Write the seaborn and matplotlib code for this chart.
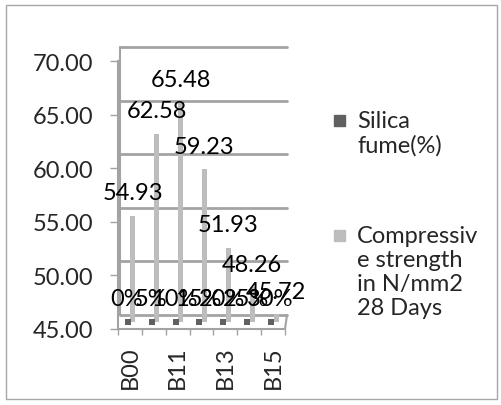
import numpy as np
import pandas as pd
import matplotlib
matplotlib.use("Agg")
import matplotlib.pyplot as plt
import matplotlib.transforms as mtransforms
from matplotlib.ticker import FormatStrFormatter
from matplotlib.patches import Rectangle
import seaborn as sns

# values
mixes = ['B00', 'B10', 'B11', 'B12', 'B13', 'B14', 'B15']
silica_fume = [0.00, 0.05, 0.10, 0.15, 0.20, 0.25, 0.30]
strength_28d = [54.93, 62.58, 65.48, 59.23, 51.93, 48.26, 45.72]
y_ticks = [45, 50, 55, 60, 65, 70]
shown_mix_labels = ['B00', 'B11', 'B13', 'B15']

silica_label = 'Silica\nfume(%)'
strength_label = 'Compressiv\ne strength\nin N/mm2\n28 Days'

SILICA_COLOR = '#606060'
STRENGTH_COLOR = '#bdbdbd'
GRID_COLOR = '#a3a3a3'
FS = 17

sns.set_theme(style='white')
plt.rcParams['font.family'] = ['Lato', 'DejaVu Sans']

W, H, DPI = 501, 406, 100
fig = plt.figure(figsize=(W / DPI, H / DPI), dpi=DPI)
ax = fig.add_axes([118 / W, 1 - 330 / H, 167 / W, 268 / H])


def shift(dx, dy):
    # pixel offset, fakes the depth of Excel's 3D column chart
    return mtransforms.ScaledTranslation(dx / DPI, dy / DPI, fig.dpi_scale_trans)


wall = shift(2, 14)
ymin, ymax = y_ticks[0], y_ticks[-1]

df = pd.DataFrame({'mix': mixes, 'silica': silica_fume, 'strength': strength_28d})
df['silica_floor'] = df['silica'].clip(lower=ymin)  # below axis min -> sits on the floor

# bars of compressive strength
sns.barplot(data=df, x='mix', y='strength', color=STRENGTH_COLOR, saturation=1,
            width=0.21, linewidth=0, ax=ax, zorder=3)
for bar in ax.patches:
    h = bar.get_height()
    bar.set_y(ymin)
    bar.set_height(h - ymin)
    bar.set_transform(ax.transData + shift(3, 7))
    bar.set_clip_on(False)

# silica fume series (all below 45, so only the floor stub shows)
sns.scatterplot(data=df, x='mix', y='silica_floor', marker='s', s=13,
                color=SILICA_COLOR, linewidth=0, ax=ax, zorder=4)
ax.collections[-1].set_offset_transform(ax.transData + shift(-2, 7))

# back wall gridlines and wall edge
for v in y_ticks:
    ax.plot([0, 1], [v, v], color=GRID_COLOR, lw=2,
            transform=ax.get_yaxis_transform() + wall, clip_on=False, zorder=1)
ax.plot([0, 0], [ymin, ymax], color=GRID_COLOR, lw=1.5,
        transform=ax.get_yaxis_transform() + wall, clip_on=False, zorder=1)
ax.plot([1, 1 + 2 / 167], [0, 14 / 268], color=GRID_COLOR, lw=1.5,
        transform=ax.transAxes, clip_on=False, zorder=1)

# data labels
for i, v in enumerate(strength_28d):
    ax.annotate(f'{v:.2f}', (i, v), xytext=(3 * 0.72, 30 * 0.72),
                textcoords='offset points', ha='center', va='center',
                fontsize=FS, color='black', annotation_clip=False, zorder=5)
for i, s in enumerate(silica_fume):
    ax.annotate(f'{s:.0%}', (i, ymin), xytext=(-3 * 0.72, 30 * 0.72),
                textcoords='offset points', ha='center', va='center',
                fontsize=FS, color='black', annotation_clip=False, zorder=5)

ax.set_ylim(ymin, ymax)
ax.set_xlim(-0.5, len(mixes) - 0.5)
ax.set_yticks(y_ticks)
ax.yaxis.set_major_formatter(FormatStrFormatter('%.2f'))
ax.set_xticks(range(len(mixes)))
ax.set_xticklabels([m if m in shown_mix_labels else '' for m in mixes], rotation=90)
ax.set_xticks(np.arange(len(mixes) + 1) - 0.5, minor=True)
ax.tick_params(axis='x', which='major', length=0, pad=12, labelsize=FS)
ax.tick_params(axis='x', which='minor', length=4.3, width=1, color=GRID_COLOR, bottom=True)
ax.tick_params(axis='y', length=5.8, width=1, color=GRID_COLOR, pad=12, labelsize=FS, left=True)
ax.set_xlabel('')
ax.set_ylabel('')
ax.set_facecolor('none')
for side in ['top', 'right']:
    ax.spines[side].set_visible(False)
for side in ['left', 'bottom']:
    ax.spines[side].set_color(GRID_COLOR)
    ax.spines[side].set_linewidth(1.5)

# legend, laid out like Excel (square next to the first line)
fig.add_artist(Rectangle((334 / W, 1 - 127 / H), 11 / W, 11 / H, color=SILICA_COLOR,
                         transform=fig.transFigure))
fig.text(357 / W, 1 - 111 / H, silica_label, va='top', ha='left', fontsize=FS, linespacing=1.17)
fig.add_artist(Rectangle((334 / W, 1 - 242 / H), 11 / W, 11 / H, color=STRENGTH_COLOR,
                         transform=fig.transFigure))
fig.text(357 / W, 1 - 226 / H, strength_label, va='top', ha='left', fontsize=FS, linespacing=1.17)

# chart frame
fig.add_artist(Rectangle((6 / W, 1 - 400 / H), 491 / W, 394 / H, fill=False,
                         edgecolor='#a6a6a6', lw=1, transform=fig.transFigure))

fig.savefig('out.png', dpi=DPI)
